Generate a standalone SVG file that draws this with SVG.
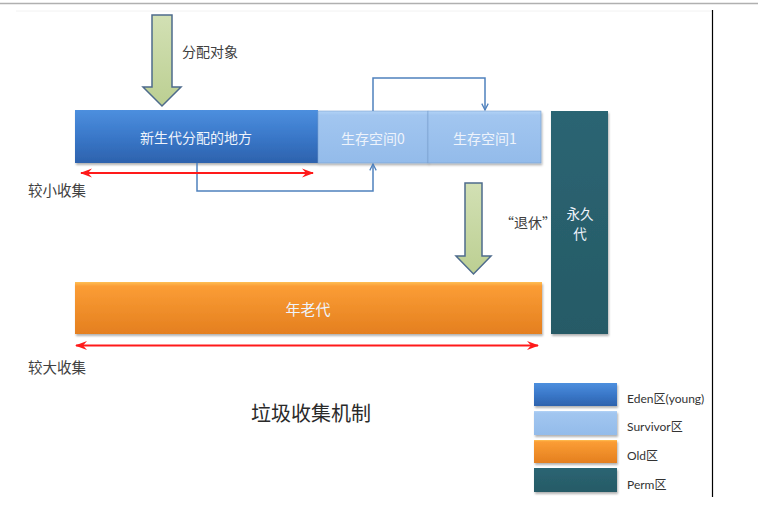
<svg xmlns="http://www.w3.org/2000/svg" width="758" height="528" viewBox="0 0 758 528">
<style>
.cjk{font-family:"Noto Sans CJK SC","Noto Sans",sans-serif}
.lbl{font-size:14px;fill:#404040}
.in{font-size:14px;fill:#eef3fb;text-anchor:middle;dominant-baseline:central}
.leg{font-family:Lato,"Noto Sans CJK SC",sans-serif;font-size:12px;fill:#333}
.blue{fill:none;stroke:#4f81bd;stroke-width:1.5}
.red{fill:none;stroke:#ff1a1a;stroke-width:2}
.garrow{fill:url(#gGreen);stroke:#4e6b8c;stroke-width:1.5}
</style>
<defs>
<linearGradient id="gEden" x1="0" y1="0" x2="0" y2="1"><stop offset="0" stop-color="#4d8fde"/><stop offset="0.5" stop-color="#3a78c9"/><stop offset="1" stop-color="#2d62ad"/></linearGradient>
<linearGradient id="gSurv" x1="0" y1="0" x2="0" y2="1"><stop offset="0" stop-color="#b3d3f6"/><stop offset="0.08" stop-color="#a2c6f0"/><stop offset="1" stop-color="#93bbea"/></linearGradient>
<linearGradient id="gOld" x1="0" y1="0" x2="0" y2="1"><stop offset="0" stop-color="#ffbf55"/><stop offset="0.08" stop-color="#fb9d35"/><stop offset="1" stop-color="#e47f1f"/></linearGradient>
<linearGradient id="gPerm" x1="0" y1="0" x2="0" y2="1"><stop offset="0" stop-color="#2c6573"/><stop offset="1" stop-color="#255a66"/></linearGradient>
<linearGradient id="gGreen" x1="0" y1="0" x2="0" y2="1"><stop offset="0" stop-color="#d2e0b4"/><stop offset="1" stop-color="#bccf92"/></linearGradient>
<filter id="sh" x="-5%" y="-10%" width="110%" height="130%"><feDropShadow dx="1" dy="2" stdDeviation="1.2" flood-color="#000" flood-opacity="0.3"/></filter>
<marker id="mb" viewBox="0 0 10 10" refX="9" refY="5" markerWidth="8" markerHeight="8" markerUnits="userSpaceOnUse" orient="auto"><path d="M1,1 L9,5 L1,9" fill="none" stroke="#4f81bd" stroke-width="1.6"/></marker>
<marker id="mr" viewBox="0 0 12 10" refX="11" refY="5" markerWidth="12" markerHeight="10" markerUnits="userSpaceOnUse" orient="auto-start-reverse"><path d="M0,0.5 L12,5 L0,9.5 L4,5 Z" fill="#ff1a1a"/></marker>
</defs>
<rect width="758" height="528" fill="#fff"/>
<line x1="0" y1="3.5" x2="758" y2="3.5" stroke="#b0b0b0" stroke-width="1.5"/>
<line x1="16" y1="11" x2="712" y2="11" stroke="#f2f2f2" stroke-width="1"/>
<line x1="712.5" y1="10" x2="712.5" y2="497" stroke="#000" stroke-width="1.2"/>

<g id="eden"><rect x="75" y="110" width="243" height="53" fill="url(#gEden)" filter="url(#sh)"/><text class="cjk in" x="196" y="137">新生代分配的地方</text></g>
<g id="survivor0"><rect x="318" y="111" width="110" height="52" fill="url(#gSurv)" stroke="#7aa0cf" stroke-width="0.6" filter="url(#sh)"/><text class="cjk in" x="373" y="138">生存空间0</text></g>
<g id="survivor1"><rect x="428" y="111" width="113" height="52" fill="url(#gSurv)" stroke="#7aa0cf" stroke-width="0.6" filter="url(#sh)"/><text class="cjk in" x="485" y="138">生存空间1</text></g>
<g id="perm"><rect x="551" y="111" width="57" height="223" fill="url(#gPerm)" filter="url(#sh)"/><text class="cjk" x="580" y="219" text-anchor="middle" style="font-size:13.5px;fill:#eef3fb">永久<tspan x="580" dy="20">代</tspan></text></g>
<g id="old"><rect x="75" y="282" width="467" height="52" fill="url(#gOld)" filter="url(#sh)"/><text class="cjk in" x="308" y="308" style="font-size:15px">年老代</text></g>

<g id="arrow-alloc"><polygon class="garrow" points="152,15 172,15 172,87 181,87 162,106 143,87 152,87"/><text class="cjk lbl" x="182" y="57">分配对象</text></g>
<g id="arrow-retire"><polygon class="garrow" points="465,183 482,183 482,256 491,256 473.5,274 456,256 465,256"/><text class="cjk lbl" x="500" y="228">“退休”</text></g>

<g id="connectors">
<path class="blue" d="M373,111 V78 H485 V110" marker-end="url(#mb)"/>
<path class="blue" d="M197,163 V191 H373 V164" marker-end="url(#mb)"/>
<line class="red" x1="81" y1="173" x2="313" y2="173" marker-start="url(#mr)" marker-end="url(#mr)"/>
<line class="red" x1="76" y1="345.5" x2="538" y2="345.5" marker-start="url(#mr)" marker-end="url(#mr)"/>
</g>
<text class="cjk lbl" x="28" y="196" style="font-size:14.5px">较小收集</text>
<text class="cjk lbl" x="28" y="373" style="font-size:14.5px">较大收集</text>
<text class="cjk" x="251" y="421" style="font-size:20px;fill:#2a2a2a">垃圾收集机制</text>

<g id="legend">
<rect x="534" y="383" width="83" height="23" fill="url(#gEden)" filter="url(#sh)"/>
<rect x="534" y="411" width="83" height="24" fill="url(#gSurv)" filter="url(#sh)"/>
<rect x="534" y="440" width="83" height="23" fill="url(#gOld)" filter="url(#sh)"/>
<rect x="534" y="468" width="83" height="24" fill="url(#gPerm)" filter="url(#sh)"/>
<text class="leg" x="627" y="403">Eden区(young)</text>
<text class="leg" x="627" y="431">Survivor区</text>
<text class="leg" x="627" y="460">Old区</text>
<text class="leg" x="627" y="489">Perm区</text>
</g>
</svg>
